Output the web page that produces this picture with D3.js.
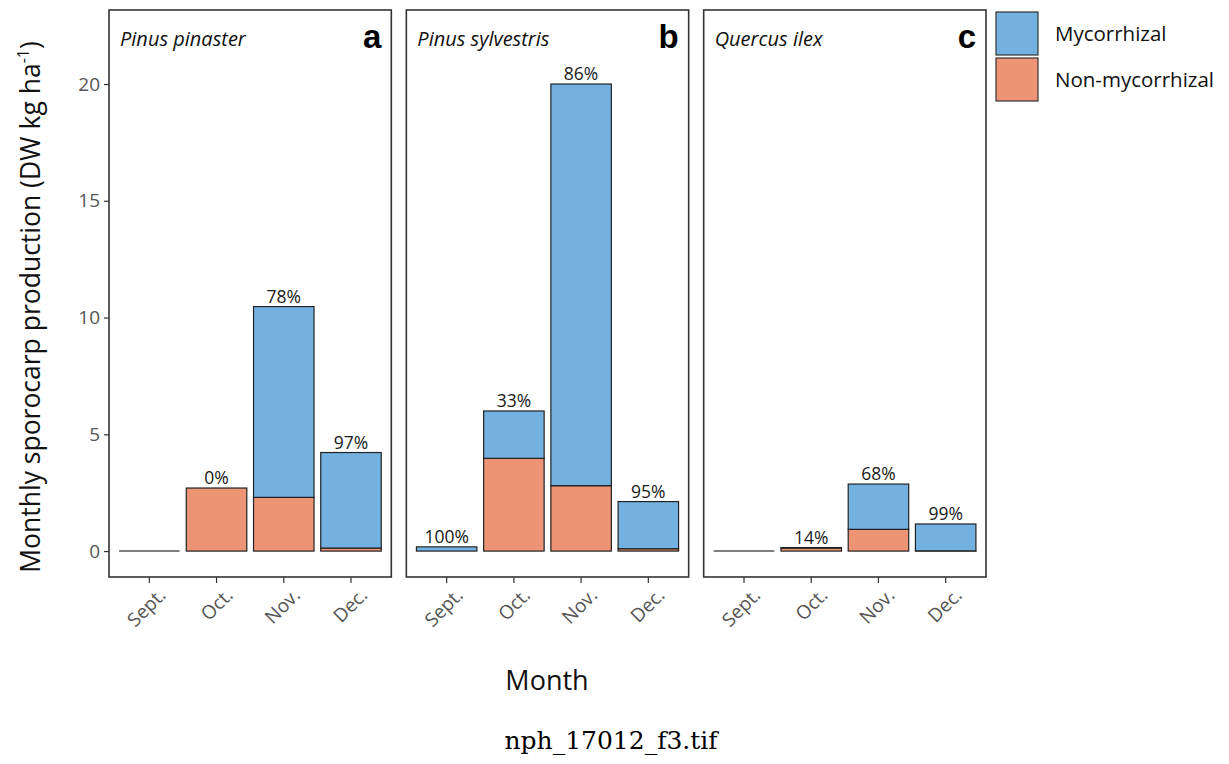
<!DOCTYPE html>
<html>
<head>
<meta charset="utf-8">
<script src="https://d3js.org/d3.v7.min.js"></script>
<style>
  body { margin: 0; background: #fff; }
</style>
</head>
<body>
<div id="chart"></div>
<script>
// data
var months = ["Sept.", "Oct.", "Nov.", "Dec."];
var species = ["Pinus pinaster", "Pinus sylvestris", "Quercus ilex"];
var letters = ["a", "b", "c"];
var nonMyc = [
  [0, 2.7, 2.3, 0.13],
  [0, 3.97, 2.8, 0.1],
  [0, 0.13, 0.93, 0.01]
];
var myc = [
  [0, 0, 8.17, 4.09],
  [0.18, 2.03, 17.2, 2.02],
  [0, 0.02, 1.94, 1.15]
];
var pctLabels = [
  ["", "0%", "78%", "97%"],
  ["100%", "33%", "86%", "95%"],
  ["", "14%", "68%", "99%"]
];
var yTicks = [0, 5, 10, 15, 20];
var legendKeys = ["Mycorrhizal", "Non-mycorrhizal"];

var colMyc = "#73b1e1";
var colNon = "#ec9473";

var W = 1229, H = 764;
var pTop = 10, pBottom = 577;

var svg = d3.select("#chart").append("svg")
  .attr("width", W).attr("height", H)
  .attr("font-family", "'Open Sans', sans-serif");

var panel = d3.scaleBand().domain(species).range([109, 986]).paddingInner(0.0505);
var y = d3.scaleLinear().domain([-1.11, 23.17]).range([pBottom, pTop]);

species.forEach(function(sp, i) {
  var g = svg.append("g").attr("transform", "translate(" + panel(sp) + ",0)");
  var pw = panel.bandwidth();
  var x = d3.scaleBand().domain(months).range([0, pw]).paddingInner(0.1).paddingOuter(0.15);

  var rows = months.map(function(m, j) {
    return { m: m, non: nonMyc[i][j], myc: myc[i][j], pct: pctLabels[i][j] };
  });

  // empty months: ggplot still draws the flat outline
  g.selectAll(".zero").data(rows.filter(function(d) { return d.non + d.myc === 0; })).enter().append("line")
    .attr("x1", function(d) { return x(d.m); })
    .attr("x2", function(d) { return x(d.m) + x.bandwidth(); })
    .attr("y1", y(0)).attr("y2", y(0))
    .attr("stroke", "#555").attr("stroke-width", 1.5);

  // non-mycorrhizal (bottom)
  g.selectAll(".non").data(rows.filter(function(d) { return d.non > 0; })).enter().append("rect")
    .attr("x", function(d) { return x(d.m); })
    .attr("width", x.bandwidth())
    .attr("y", function(d) { return y(d.non); })
    .attr("height", function(d) { return y(0) - y(d.non); })
    .attr("fill", colNon)
    .attr("stroke", "#222")
    .attr("stroke-width", 1.2);

  // mycorrhizal (stacked on top)
  g.selectAll(".myc").data(rows.filter(function(d) { return d.myc > 0; })).enter().append("rect")
    .attr("x", function(d) { return x(d.m); })
    .attr("width", x.bandwidth())
    .attr("y", function(d) { return y(d.non + d.myc); })
    .attr("height", function(d) { return y(d.non) - y(d.non + d.myc); })
    .attr("fill", colMyc)
    .attr("stroke", "#222")
    .attr("stroke-width", 1.2);

  // percent labels
  g.selectAll(".pct").data(rows).enter().append("text")
    .attr("x", function(d) { return x(d.m) + x.bandwidth() / 2; })
    .attr("y", function(d) { return y(d.non + d.myc) - 4; })
    .attr("text-anchor", "middle")
    .attr("font-size", 17.5)
    .attr("fill", "#1a1a1a")
    .text(function(d) { return d.pct; });

  // panel border
  g.append("rect")
    .attr("x", 0).attr("y", pTop)
    .attr("width", pw).attr("height", pBottom - pTop)
    .attr("fill", "none").attr("stroke", "#333").attr("stroke-width", 1.6);

  // species and letter
  g.append("text")
    .attr("x", 11).attr("y", 46)
    .attr("font-size", 20).attr("font-style", "italic").attr("fill", "#111")
    .text(sp);
  g.append("text")
    .attr("x", pw - 10).attr("y", 48)
    .attr("text-anchor", "end")
    .attr("font-family", "'Liberation Sans', Arial, sans-serif")
    .attr("font-weight", "bold").attr("font-size", 33).attr("fill", "#000")
    .text(letters[i]);

  // x axis
  var xa = g.append("g").attr("transform", "translate(0," + pBottom + ")")
    .call(d3.axisBottom(x).tickSize(6).tickPadding(4));
  xa.select(".domain").remove();
  xa.selectAll(".tick line").attr("stroke", "#333").attr("stroke-width", 1.2);
  xa.selectAll(".tick text")
    .attr("font-family", "'Open Sans', sans-serif")
    .attr("font-size", 19).attr("fill", "#555")
    .attr("text-anchor", "end")
    .attr("dy", "0.4em")
    .attr("transform", "translate(5,7) rotate(-45)");

  if (i === 0) {
    var ya = g.append("g").call(d3.axisLeft(y).tickValues(yTicks).tickSize(5).tickPadding(4));
    ya.select(".domain").remove();
    ya.selectAll(".tick line").attr("stroke", "#333").attr("stroke-width", 1.2);
    ya.selectAll(".tick text")
      .attr("font-family", "'Open Sans', sans-serif")
      .attr("font-size", 19).attr("fill", "#555");
  }
});

// legend
var lg = svg.append("g").attr("transform", "translate(996,12)");
var lcol = [colMyc, colNon];
legendKeys.forEach(function(k, i) {
  lg.append("rect")
    .attr("x", 0).attr("y", i * 46)
    .attr("width", 42).attr("height", 43)
    .attr("fill", lcol[i]).attr("stroke", "#333").attr("stroke-width", 1.2);
  lg.append("text")
    .attr("x", 59).attr("y", i * 46 + 29)
    .attr("font-size", 20.5).attr("fill", "#111")
    .text(k);
});

// axis titles
svg.append("text")
  .attr("transform", "translate(40,307) rotate(-90)")
  .attr("text-anchor", "middle")
  .attr("font-size", 26.5).attr("fill", "#111")
  .html("Monthly sporocarp production (DW kg ha<tspan dy='-11' font-size='16'>-1</tspan><tspan dy='11'>)</tspan>");

svg.append("text")
  .attr("x", 547).attr("y", 690)
  .attr("text-anchor", "middle")
  .attr("font-size", 27).attr("fill", "#111")
  .text("Month");

svg.append("text")
  .attr("x", 611).attr("y", 749)
  .attr("text-anchor", "middle")
  .attr("font-family", "'DejaVu Serif', 'Liberation Serif', serif")
  .attr("font-size", 25).attr("fill", "#000")
  .text("nph_17012_f3.tif");
</script>
</body>
</html>
